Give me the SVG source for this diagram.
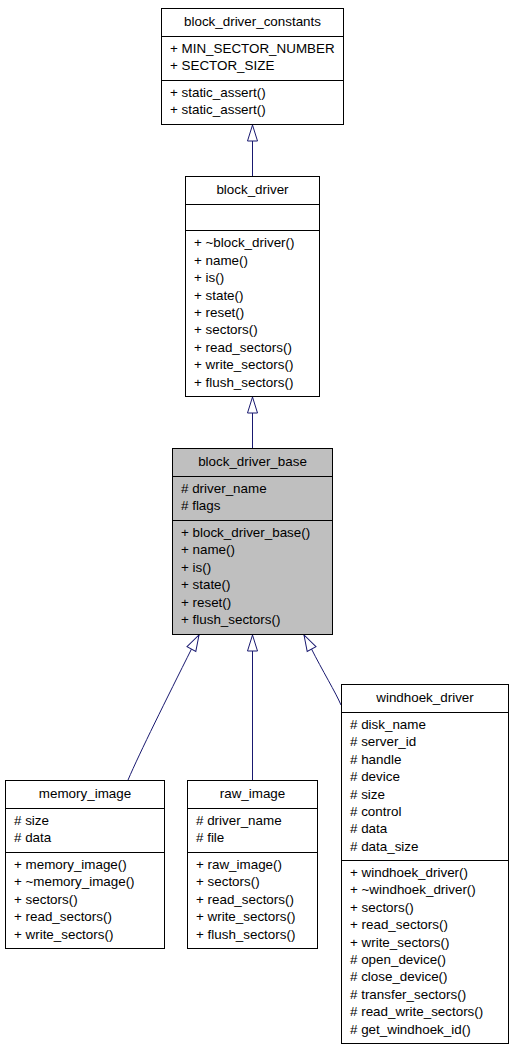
<svg xmlns="http://www.w3.org/2000/svg" width="512" height="1051" viewBox="0 0 512 1051">
<style>
  .box { fill: #ffffff; stroke: #000000; stroke-width: 1; }
  .base { fill: #bfbfbf; stroke: #000000; stroke-width: 1; }
  .sep { stroke: #000000; stroke-width: 1; }
  text { font-family: "Liberation Sans", Arial, Helvetica, sans-serif; font-size: 13.4px; fill: #000000; }
  .title { text-anchor: middle; }
  .edge { fill: none; stroke: #191970; stroke-width: 1; }
</style>
<defs>
  <marker id="inherit" markerUnits="userSpaceOnUse" markerWidth="17" markerHeight="11" viewBox="0 0 17 11" refX="16.5" refY="5.5" orient="auto" overflow="visible">
    <path d="M0.5,0.5 L16.5,5.5 L0.5,10.5 Z" fill="#ffffff" stroke="#191970" stroke-width="1"/>
  </marker>
</defs>
<g id="edges">
  <path class="edge" d="M252.5,176 L252.5,125" marker-end="url(#inherit)"/>
  <path class="edge" d="M252.5,448 L252.5,397" marker-end="url(#inherit)"/>
  <path class="edge" d="M128,780 C140,752 166,700 192,648 L199,635" marker-end="url(#inherit)"/>
  <path class="edge" d="M252.5,780 L252.5,635" marker-end="url(#inherit)"/>
  <path class="edge" d="M341,705 C336,693 322,670 311,648 L304,635" marker-end="url(#inherit)"/>
</g>
<g id="block_driver_constants">
  <rect class="box" x="161.5" y="8.5" width="182" height="116"/>
  <line class="sep" x1="161.5" y1="36.5" x2="343.5" y2="36.5"/>
  <line class="sep" x1="161.5" y1="80.5" x2="343.5" y2="80.5"/>
  <text class="title" x="252.5" y="26">block_driver_constants</text>
  <text x="170" y="53">+ MIN_SECTOR_NUMBER</text>
  <text x="170" y="70.4">+ SECTOR_SIZE</text>
  <text x="170" y="97">+ static_assert()</text>
  <text x="170" y="114.4">+ static_assert()</text>
</g>
<g id="block_driver">
  <rect class="box" x="185.5" y="176.5" width="134" height="220"/>
  <line class="sep" x1="185.5" y1="204.5" x2="319.5" y2="204.5"/>
  <line class="sep" x1="185.5" y1="230.5" x2="319.5" y2="230.5"/>
  <text class="title" x="252.5" y="194">block_driver</text>
  <text x="194" y="247.4">+ ~block_driver()</text>
  <text x="194" y="264.8">+ name()</text>
  <text x="194" y="282.2">+ is()</text>
  <text x="194" y="299.6">+ state()</text>
  <text x="194" y="317">+ reset()</text>
  <text x="194" y="334.4">+ sectors()</text>
  <text x="194" y="351.8">+ read_sectors()</text>
  <text x="194" y="369.2">+ write_sectors()</text>
  <text x="194" y="386.6">+ flush_sectors()</text>
</g>
<g id="block_driver_base">
  <rect class="base" x="172.5" y="448.5" width="160" height="186"/>
  <line class="sep" x1="172.5" y1="476.5" x2="332.5" y2="476.5"/>
  <line class="sep" x1="172.5" y1="520.5" x2="332.5" y2="520.5"/>
  <text class="title" x="252.5" y="466">block_driver_base</text>
  <text x="181" y="493"># driver_name</text>
  <text x="181" y="510.4"># flags</text>
  <text x="181" y="537">+ block_driver_base()</text>
  <text x="181" y="554.4">+ name()</text>
  <text x="181" y="571.8">+ is()</text>
  <text x="181" y="589.2">+ state()</text>
  <text x="181" y="606.6">+ reset()</text>
  <text x="181" y="624">+ flush_sectors()</text>
</g>
<g id="memory_image">
  <rect class="box" x="5.5" y="780.5" width="159" height="168"/>
  <line class="sep" x1="5.5" y1="808.5" x2="164.5" y2="808.5"/>
  <line class="sep" x1="5.5" y1="852.5" x2="164.5" y2="852.5"/>
  <text class="title" x="85" y="798">memory_image</text>
  <text x="14" y="825"># size</text>
  <text x="14" y="842.4"># data</text>
  <text x="14" y="869">+ memory_image()</text>
  <text x="14" y="886.4">+ ~memory_image()</text>
  <text x="14" y="903.8">+ sectors()</text>
  <text x="14" y="921.2">+ read_sectors()</text>
  <text x="14" y="938.6">+ write_sectors()</text>
</g>
<g id="raw_image">
  <rect class="box" x="187.5" y="780.5" width="130" height="168"/>
  <line class="sep" x1="187.5" y1="808.5" x2="317.5" y2="808.5"/>
  <line class="sep" x1="187.5" y1="852.5" x2="317.5" y2="852.5"/>
  <text class="title" x="252.5" y="798">raw_image</text>
  <text x="196" y="825"># driver_name</text>
  <text x="196" y="842.4"># file</text>
  <text x="196" y="869">+ raw_image()</text>
  <text x="196" y="886.4">+ sectors()</text>
  <text x="196" y="903.8">+ read_sectors()</text>
  <text x="196" y="921.2">+ write_sectors()</text>
  <text x="196" y="938.6">+ flush_sectors()</text>
</g>
<g id="windhoek_driver">
  <rect class="box" x="341.5" y="684.5" width="167" height="359"/>
  <line class="sep" x1="341.5" y1="712.5" x2="508.5" y2="712.5"/>
  <line class="sep" x1="341.5" y1="860.5" x2="508.5" y2="860.5"/>
  <text class="title" x="425" y="702">windhoek_driver</text>
  <text x="350" y="729"># disk_name</text>
  <text x="350" y="746.4"># server_id</text>
  <text x="350" y="763.8"># handle</text>
  <text x="350" y="781.2"># device</text>
  <text x="350" y="798.6"># size</text>
  <text x="350" y="816"># control</text>
  <text x="350" y="833.4"># data</text>
  <text x="350" y="850.8"># data_size</text>
  <text x="350" y="877">+ windhoek_driver()</text>
  <text x="350" y="894.4">+ ~windhoek_driver()</text>
  <text x="350" y="911.8">+ sectors()</text>
  <text x="350" y="929.2">+ read_sectors()</text>
  <text x="350" y="946.6">+ write_sectors()</text>
  <text x="350" y="964"># open_device()</text>
  <text x="350" y="981.4"># close_device()</text>
  <text x="350" y="998.8"># transfer_sectors()</text>
  <text x="350" y="1016.2"># read_write_sectors()</text>
  <text x="350" y="1033.6"># get_windhoek_id()</text>
</g>
</svg>
